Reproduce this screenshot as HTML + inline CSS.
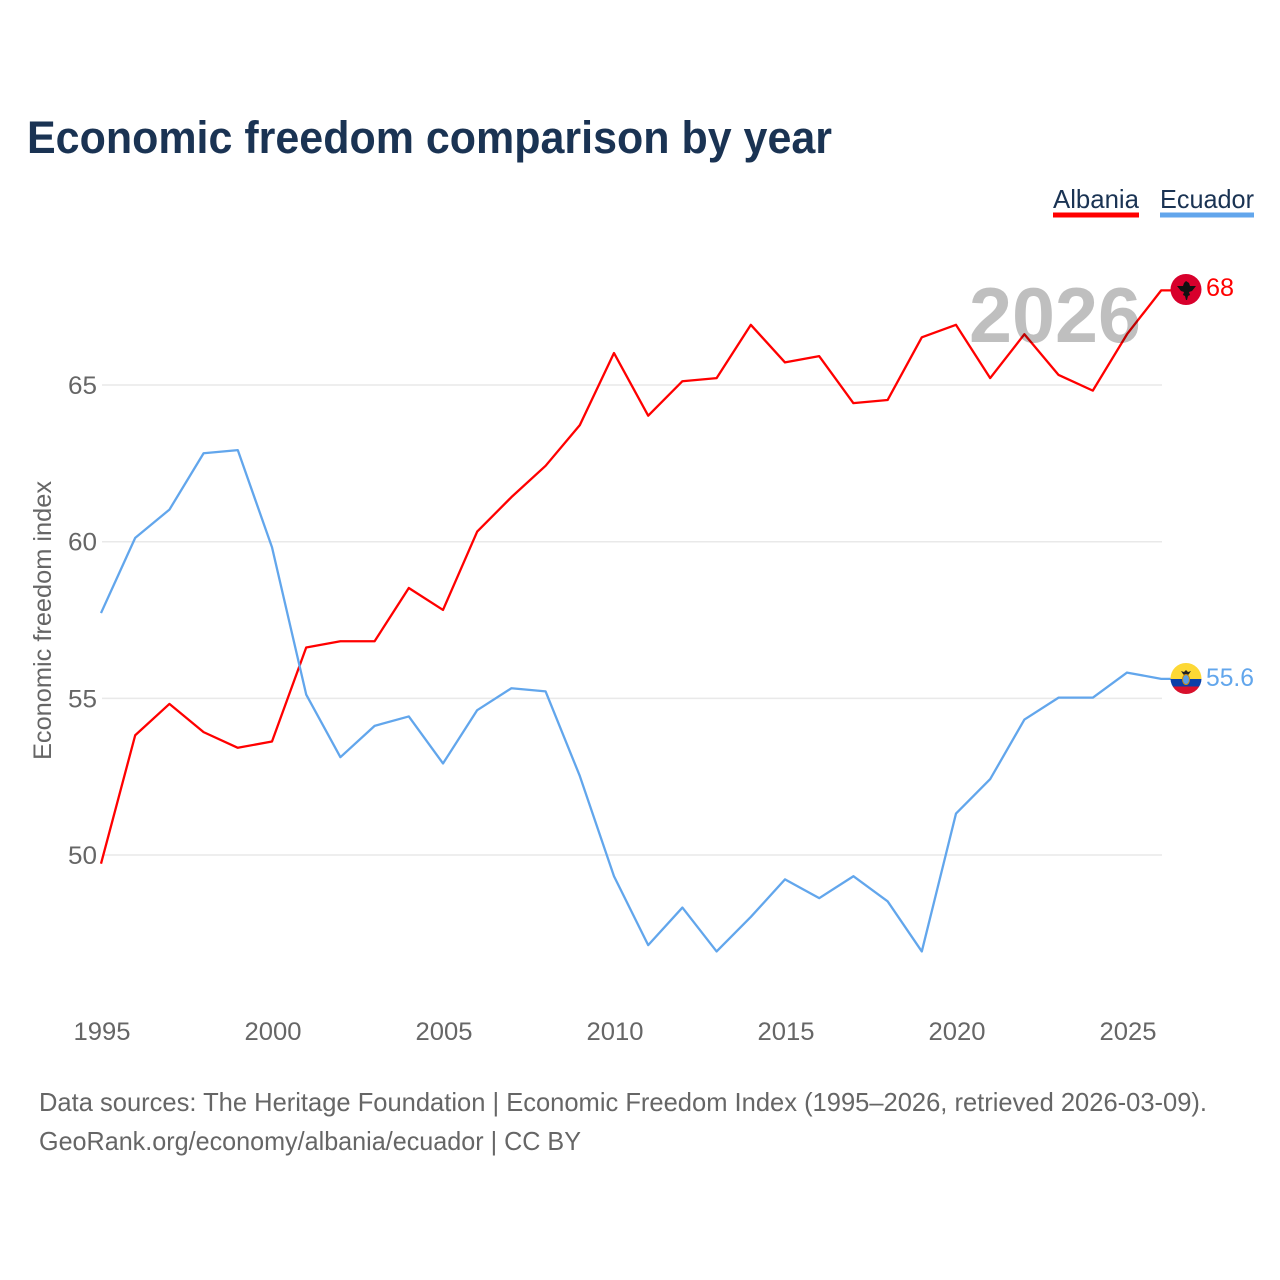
<!DOCTYPE html>
<html lang="en">
<head>
<meta charset="utf-8">
<title>Economic freedom comparison by year</title>
<style>
html,body{margin:0;padding:0;background:#fff}
svg{display:block}
text{font-family:"Liberation Sans",sans-serif}
</style>
</head>
<body>
<svg id="chart" xmlns="http://www.w3.org/2000/svg" width="1280" height="1280" viewBox="0 0 1280 1280">
  <defs>
    <clipPath id="clip-albania"><circle cx="1186" cy="289.5" r="15.5"/></clipPath>
    <clipPath id="clip-ecuador"><circle cx="1186" cy="678.5" r="15.5"/></clipPath>
  </defs>
  <rect width="1280" height="1280" fill="#fff"/>
  <text x="27" y="153" font-size="45" font-weight="700" fill="#1a3353" textLength="805" lengthAdjust="spacingAndGlyphs">Economic freedom comparison by year</text>

  <g>
    <g>
      <text x="1053" y="208" font-size="26" fill="#1a3353" textLength="86" lengthAdjust="spacingAndGlyphs">Albania</text>
      <rect x="1053" y="212.5" width="86" height="5" fill="#ff0000"/>
    </g>
    <g>
      <text x="1160" y="208" font-size="26" fill="#1a3353" textLength="94" lengthAdjust="spacingAndGlyphs">Ecuador</text>
      <rect x="1160" y="212.5" width="94" height="5" fill="#62a6ec"/>
    </g>
  </g>

  <g id="grid"></g>
  <g id="y-axis"></g>
  <g id="x-axis"></g>
  <text transform="translate(51,760) rotate(-90)" font-size="25" fill="#666" textLength="279" lengthAdjust="spacingAndGlyphs">Economic freedom index</text>

  <g id="series" transform="translate(-1,-0.7)"></g>

  <text x="969" y="342" font-size="78" font-weight="700" fill="#000" fill-opacity="0.25" textLength="172" lengthAdjust="spacingAndGlyphs">2026</text>

  <g clip-path="url(#clip-albania)">
    <rect x="1170" y="274" width="32" height="32" fill="#d8002c"/>
    <path d="M1186 281l3 2 1 3 6 0-4 5-3 1 1 3-2 1-1 4-1 0-1-4-2-1 1-3-3-1-4-5 6 0 1-3z" fill="#111"/>
  </g>
  <g clip-path="url(#clip-ecuador)">
    <rect x="1170" y="663" width="32" height="16" fill="#fdd835"/>
    <rect x="1170" y="679" width="32" height="7.5" fill="#0a3fa8"/>
    <rect x="1170" y="686.5" width="32" height="8" fill="#d8102c"/>
    <path d="M1181 671l3 1 2-2 2 2 3-1-2 3-1 1h-4l-1-1z" fill="#222"/>
    <ellipse cx="1186" cy="679.5" rx="3.5" ry="5" fill="#5b9fe6" stroke="#c98a10" stroke-width="1"/>
  </g>

  <text id="albania-end-label" x="1206" y="296" font-size="25" fill="#ff0000" textLength="28" lengthAdjust="spacingAndGlyphs">68</text>
  <text id="ecuador-end-label" x="1206" y="686" font-size="25" fill="#62a6ec" textLength="48" lengthAdjust="spacingAndGlyphs">55.6</text>

  <g>
    <text x="39" y="1111" font-size="26" fill="#666" textLength="1168" lengthAdjust="spacingAndGlyphs">Data sources: The Heritage Foundation | Economic Freedom Index (1995–2026, retrieved 2026-03-09).</text>
    <text x="39" y="1150" font-size="26" fill="#666" textLength="542" lengthAdjust="spacingAndGlyphs">GeoRank.org/economy/albania/ecuador | CC BY</text>
  </g>
</svg>
<script>
const years = [1995,1996,1997,1998,1999,2000,2001,2002,2003,2004,2005,2006,2007,2008,2009,2010,2011,2012,2013,2014,2015,2016,2017,2018,2019,2020,2021,2022,2023,2024,2025,2026];
const albaniaValues = [49.7,53.8,54.8,53.9,53.4,53.6,56.6,56.8,56.8,58.5,57.8,60.3,61.4,62.4,63.7,66.0,64.0,65.1,65.2,66.9,65.7,65.9,64.4,64.5,66.5,66.9,65.2,66.6,65.3,64.8,66.6,68.0];
const ecuadorValues = [57.7,60.1,61.0,62.8,62.9,59.8,55.1,53.1,54.1,54.4,52.9,54.6,55.3,55.2,52.5,49.3,47.1,48.3,46.9,48.0,49.2,48.6,49.3,48.5,46.9,51.3,52.4,54.3,55.0,55.0,55.8,55.6];
const yTicks = [50,55,60,65];
const xTicks = [1995,2000,2005,2010,2015,2020,2025];

const NS = 'http://www.w3.org/2000/svg';
function xScale(year){ return 102 + (year - 1995) * 34.2; }
function yScale(value){ return 855 - (value - 50) * 31.33; }
function make(tag, attrs, parent){
  const el = document.createElementNS(NS, tag);
  for (const k in attrs) el.setAttribute(k, attrs[k]);
  parent.appendChild(el);
  return el;
}

const grid = document.getElementById('grid');
const yAxis = document.getElementById('y-axis');
const xAxis = document.getElementById('x-axis');
const seriesGroup = document.getElementById('series');

yTicks.forEach(function(t){
  const line = make('line', {x1:102, x2:1162, y1:yScale(t), y2:yScale(t), stroke:'#e9e9e9', 'stroke-width':1.5}, grid);
  
  
  const label = make('text', {x:97, y:yScale(t)+9, 'text-anchor':'end', 'font-size':25, fill:'#666', textLength:29, lengthAdjust:'spacingAndGlyphs'}, yAxis);
  
  
  label.textContent = t;
});

xTicks.forEach(function(t){
  const label = make('text', {x:xScale(t), y:1040, 'text-anchor':'middle', 'font-size':25, fill:'#666', textLength:57, lengthAdjust:'spacingAndGlyphs'}, xAxis);
  
  
  label.textContent = t;
});

function drawSeries(values, color){
  const pts = values.map(function(v, i){ return xScale(years[i]) + ',' + yScale(v); });
  const last = values[values.length - 1];
  pts.push('1172,' + yScale(last));
  const el = make('polyline', {points:pts.join(' '), fill:'none', stroke:color, 'stroke-width':2.3, 'stroke-linejoin':'round'}, seriesGroup);
  return el;
}
const albaniaLine = drawSeries(albaniaValues, '#ff0000');


const ecuadorLine = drawSeries(ecuadorValues, '#62a6ec');



document.getElementById('albania-end-label').textContent = albaniaValues[albaniaValues.length - 1];
document.getElementById('ecuador-end-label').textContent = ecuadorValues[ecuadorValues.length - 1];
</script>
</body>
</html>
